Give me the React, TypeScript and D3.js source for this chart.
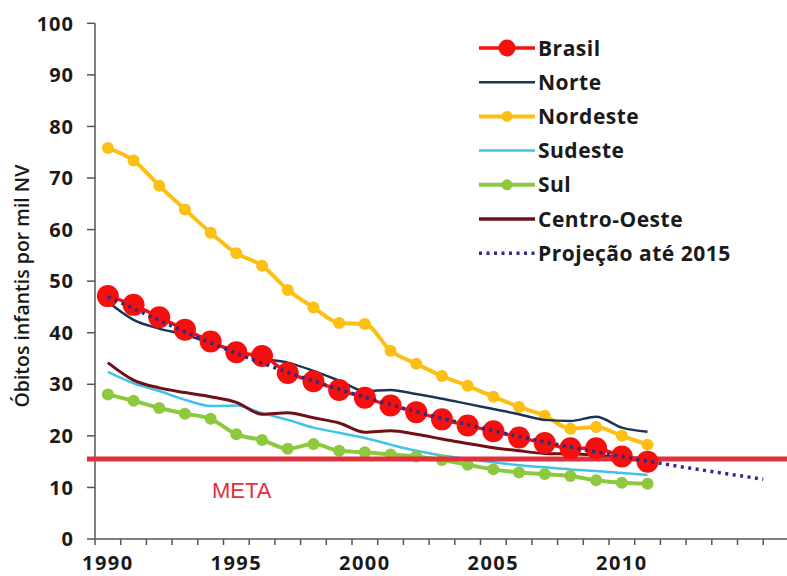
import React from "react";
import * as d3 from "d3";

const YEARS = d3.range(1990, 2012);
const BRASIL = [47.1, 45.4, 43.0, 40.6, 38.3, 36.2, 35.5, 32.2, 30.6, 28.9, 27.4, 25.9, 24.6, 23.2, 22.0, 20.9, 19.7, 18.6, 17.6, 17.6, 16.0, 15.0];
const NORTE = [46.0, 42.5, 40.8, 39.6, 38.0, 36.6, 35.0, 34.2, 32.6, 30.7, 28.7, 28.9, 28.1, 27.2, 26.2, 25.2, 24.2, 23.1, 22.9, 23.7, 21.6, 20.8];
const NORDESTE = [75.8, 73.4, 68.5, 63.9, 59.4, 55.4, 53.0, 48.3, 44.9, 41.9, 41.7, 36.5, 34.0, 31.6, 29.7, 27.6, 25.6, 23.9, 21.4, 21.7, 20.0, 18.3];
const SUDESTE = [32.4, 30.2, 28.7, 27.0, 25.8, 25.9, 24.4, 23.1, 21.6, 20.6, 19.6, 18.3, 17.1, 16.2, 15.5, 14.9, 14.3, 13.9, 13.5, 13.2, 12.8, 12.4];
const SUL = [28.0, 26.8, 25.4, 24.3, 23.3, 20.3, 19.2, 17.5, 18.4, 17.1, 16.8, 16.4, 16.0, 15.3, 14.4, 13.5, 12.9, 12.6, 12.2, 11.4, 10.9, 10.7];
const CENTRO_OESTE = [34.2, 30.8, 29.3, 28.4, 27.6, 26.5, 24.2, 24.5, 23.5, 22.5, 20.7, 21.0, 20.3, 19.4, 18.5, 17.7, 17.1, 16.6, 16.5, 16.3, 15.8, 15.7];
const PROJ_YEARS = [1990, 1995, 2000, 2005, 2011, 2015.5];
const PROJ_VALUES = [47.0, 36.0, 27.5, 21.0, 15.1, 11.6];
const META = 15.5;
const Y_TICKS = [0, 10, 20, 30, 40, 50, 60, 70, 80, 90, 100];
const X_LABELS = [1990, 1995, 2000, 2005, 2010];
const AXIS_YEARS = d3.range(1990, 2018);

const W = 787;
const H = 576;
const FONT = "'Open Sans', 'DejaVu Sans', sans-serif";

const x = d3.scaleLinear().domain([1990, 2017]).range([95, 95 + 27 * 25.7]);
const y = d3.scaleLinear().domain([0, 100]).range([539, 23.3]);
const px = (yr: number) => x(yr + 0.5);

type Series = {
  name: string;
  values: number[];
  color: string;
  width: number;
  marker: number;
};

const SERIES: Series[] = [
  { name: "Sudeste", values: SUDESTE, color: "#41c3e8", width: 2.5, marker: 0 },
  { name: "Sul", values: SUL, color: "#8dc83f", width: 4, marker: 6 },
  { name: "Centro-Oeste", values: CENTRO_OESTE, color: "#6e1016", width: 3, marker: 0 },
  { name: "Nordeste", values: NORDESTE, color: "#fcbf14", width: 4, marker: 6 },
  { name: "Norte", values: NORTE, color: "#1b3558", width: 2.5, marker: 0 },
];

const BRASIL_COLOR = "#f50f0f";
const PROJ_COLOR = "#2b2c86";
const META_COLOR = "#e0303c";

const LEGEND = [
  { name: "Brasil", color: BRASIL_COLOR, width: 3.5, marker: 8.5, dash: "" },
  { name: "Norte", color: "#1b3558", width: 2.5, marker: 0, dash: "" },
  { name: "Nordeste", color: "#fcbf14", width: 4, marker: 5.5, dash: "" },
  { name: "Sudeste", color: "#41c3e8", width: 2.5, marker: 0, dash: "" },
  { name: "Sul", color: "#8dc83f", width: 4, marker: 5.5, dash: "" },
  { name: "Centro-Oeste", color: "#6e1016", width: 3.5, marker: 0, dash: "" },
  { name: "Projeção até 2015", color: PROJ_COLOR, width: 3.5, marker: 0, dash: "3 4.5" },
];

const lineGen = d3
  .line<[number, number]>()
  .x((d) => px(d[0]))
  .y((d) => y(d[1]))
  .curve(d3.curveMonotoneX);

export default function App() {
  const projPts: [number, number][] = PROJ_YEARS.map((yr, i) => [yr, PROJ_VALUES[i]]);
  const brasilPts: [number, number][] = YEARS.map((yr, i) => [yr, BRASIL[i]]);
  return (
    <svg
      width={W}
      height={H}
      style={{ position: "absolute", left: 0, top: 0, background: "#fff" }}
      fontFamily={FONT}
    >
      <rect x={0} y={0} width={W} height={H} fill="#fff" />
      {/* axes */}
      <line x1={x(1990)} x2={x(1990)} y1={y(100)} y2={y(0)} stroke="#555" strokeWidth={1.5} />
      <line x1={x(1990)} x2={W} y1={y(0)} y2={y(0)} stroke="#555" strokeWidth={1.5} />
      {Y_TICKS.map((t) => (
        <g key={"yt" + t}>
          <line x1={87} x2={x(1990)} y1={y(t)} y2={y(t)} stroke="#555" strokeWidth={1.5} />
          <text
            x={74}
            y={y(t)}
            dy="0.36em"
            textAnchor="end"
            fontSize={20}
            fontWeight={700}
            fill="#1a1a1a"
            letterSpacing={1}
          >
            {t}
          </text>
        </g>
      ))}
      {AXIS_YEARS.map((yr) => (
        <line key={"xt" + yr} x1={x(yr)} x2={x(yr)} y1={y(0)} y2={y(0) + 6} stroke="#555" strokeWidth={1.5} />
      ))}
      {X_LABELS.map((yr) => (
        <text
          key={"xl" + yr}
          x={px(yr)}
          y={570}
          textAnchor="middle"
          fontSize={20}
          fontWeight={700}
          fill="#1a1a1a"
          letterSpacing={1.5}
        >
          {yr}
        </text>
      ))}
      <text
        transform={`translate(29,${(y(0) + y(100)) / 2 + 5}) rotate(-90)`}
        textAnchor="middle"
        fontSize={19.5}
        fontWeight={600}
        fill="#1a1a1a"
      >
        Óbitos infantis por mil NV
      </text>

      {/* regional series */}
      {SERIES.map((s) => {
        const pts: [number, number][] = YEARS.map((yr, i) => [yr, s.values[i]]);
        return (
          <g key={s.name}>
            <path d={lineGen(pts) || ""} fill="none" stroke={s.color} strokeWidth={s.width} strokeLinejoin="round" />
            {s.marker > 0 &&
              pts.map((p) => (
                <circle key={p[0]} cx={px(p[0])} cy={y(p[1])} r={s.marker} fill={s.color} />
              ))}
          </g>
        );
      })}

      {/* META line */}
      <line x1={87} x2={W} y1={y(META)} y2={y(META)} stroke={META_COLOR} strokeWidth={5} />
      <text x={212} y={498} fontSize={22} fill={META_COLOR} fontFamily="'Liberation Sans', Arial, sans-serif">
        META
      </text>

      {/* Brasil */}
      <path d={lineGen(brasilPts) || ""} fill="none" stroke={BRASIL_COLOR} strokeWidth={3.5} />
      {brasilPts.map((p) => (
        <circle key={"b" + p[0]} cx={px(p[0])} cy={y(p[1])} r={11} fill={BRASIL_COLOR} />
      ))}

      {/* Projection */}
      <path
        d={lineGen(projPts) || ""}
        fill="none"
        stroke={PROJ_COLOR}
        strokeWidth={3.5}
        strokeDasharray="3 4.5"
      />

      {/* legend */}
      {LEGEND.map((l, i) => {
        const ly = 48 + i * 34.2;
        return (
          <g key={"lg" + l.name}>
            <line
              x1={479}
              x2={535}
              y1={ly}
              y2={ly}
              stroke={l.color}
              strokeWidth={l.width}
              strokeDasharray={l.dash || undefined}
            />
            {l.marker > 0 && <circle cx={507} cy={ly} r={l.marker} fill={l.color} />}
            <text x={538} y={ly} dy="0.36em" fontSize={21} fontWeight={700} fill="#1a1a1a" letterSpacing={0.5}>
              {l.name}
            </text>
          </g>
        );
      })}
    </svg>
  );
}
